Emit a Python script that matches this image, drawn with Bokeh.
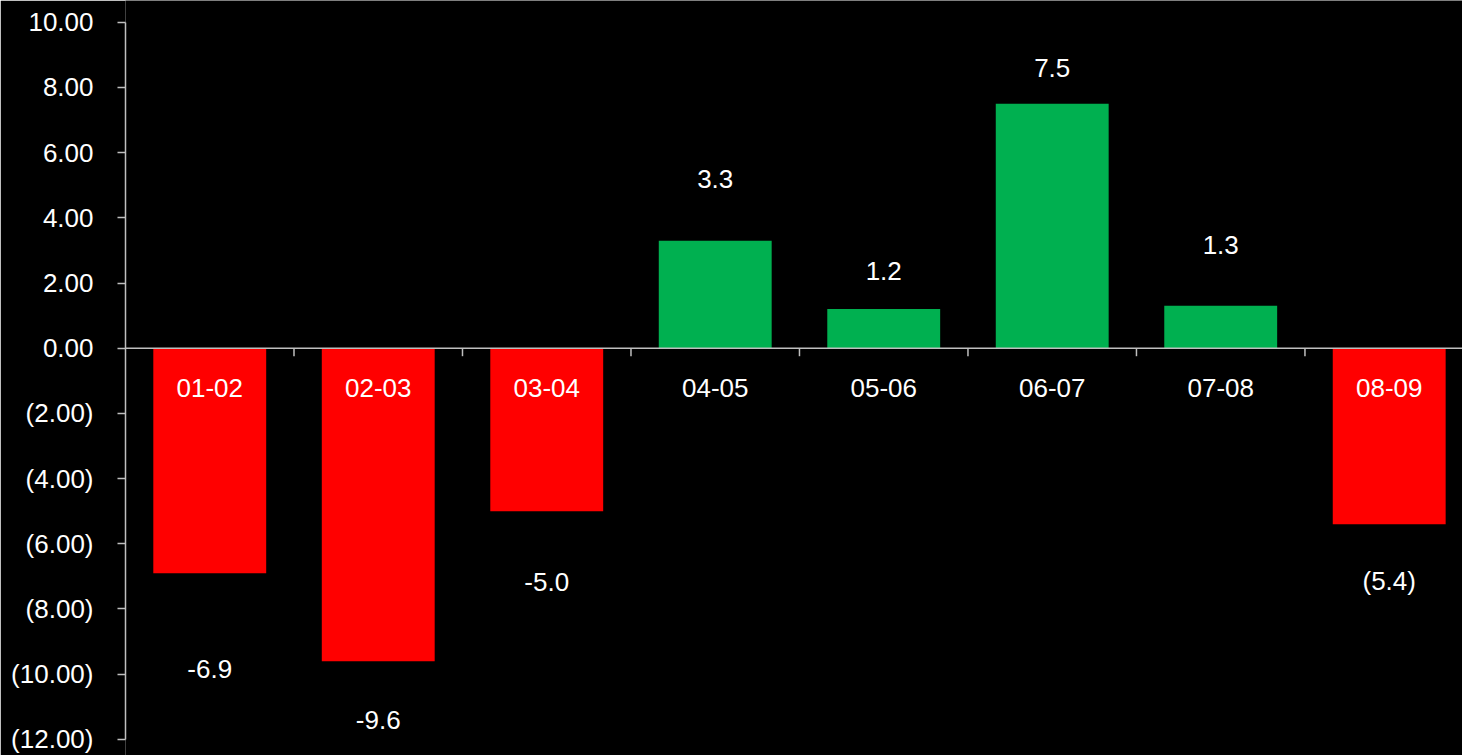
import math
from bokeh.plotting import figure
from bokeh.models import (ColumnDataSource, Range1d, FixedTicker, CustomJSTickFormatter, Span)
from bokeh.core.properties import value
from bokeh.embed import file_html
from bokeh.resources import INLINE

# ---- data ----
categories = ["01-02", "02-03", "03-04", "04-05", "05-06", "06-07", "07-08", "08-09"]
values = [-6.9, -9.6, -5.0, 3.3, 1.2, 7.5, 1.3, -5.4]
value_labels = ["-6.9", "-9.6", "-5.0", "3.3", "1.2", "7.5", "1.3", "(5.4)"]
y_ticks = [-12, -10, -8, -6, -4, -2, 0, 2, 4, 6, 8, 10]

# ---- styling / placement (screen pixels, positive = down) ----
label_offsets = [96, 59, 71, -62, -38, -36, -61, 57]
POS_COLOR = "#00B050"
NEG_COLOR = "#FF0000"
AXIS_COLOR = "#BFBFBF"
FONT = "Liberation Sans"
FS = "26px"

n = len(categories)
xs = [i + 0.5 for i in range(n)]
colors = [POS_COLOR if v >= 0 else NEG_COLOR for v in values]

src = ColumnDataSource(dict(x=xs, top=values, color=colors, cat=categories,
                            lab=value_labels, dy=label_offsets, zero=[0] * n))

p = figure(width=1462, height=755, output_backend="svg", toolbar_location=None,
           x_range=Range1d(0, 7.935), y_range=Range1d(-12.494, 10.666),
           min_border_left=125, min_border_right=0, min_border_top=0, min_border_bottom=0)
p.background_fill_color = "black"
p.border_fill_color = "black"
p.outline_line_color = None
p.xgrid.visible = False
p.ygrid.visible = False
p.xaxis.visible = False

ya = p.yaxis[0]
ya.ticker = FixedTicker(ticks=y_ticks)
ya.formatter = CustomJSTickFormatter(code="""
    return tick < 0 ? "(" + Math.abs(tick).toFixed(2) + ")" : tick.toFixed(2);
""")
ya.bounds = (min(y_ticks), max(y_ticks))
ya.axis_line_color = AXIS_COLOR
ya.axis_line_width = 1.5
ya.major_tick_line_color = AXIS_COLOR
ya.major_tick_line_width = 1.5
ya.major_tick_out = 8
ya.major_tick_in = 0
ya.minor_tick_line_color = None
ya.major_label_standoff = 24
ya.major_label_text_color = "white"
ya.major_label_text_font = FONT
ya.major_label_text_font_size = FS

p.vbar(x="x", top="top", bottom=0, width=0.67, fill_color="color", line_color=None, source=src)

# zero line with category boundary ticks
p.add_layout(Span(location=0, dimension="width", line_color=AXIS_COLOR, line_width=1.5))
bx = list(range(1, n))
p.ray(x=bx, y=[0] * len(bx), length=8, length_units="screen", angle=-math.pi / 2,
      line_color=AXIS_COLOR, line_width=1.5)

# category labels just below zero line
p.text(x="x", y="zero", text="cat", source=src, y_offset=40,
       text_align="center", text_baseline="middle", text_color="white",
       text_font=value(FONT), text_font_size=FS)

# value labels
p.text(x="x", y="top", text="lab", source=src, y_offset="dy",
       text_align="center", text_baseline="middle", text_color="white",
       text_font=value(FONT), text_font_size=FS)

open("out.html", "w").write(file_html(p, INLINE))
